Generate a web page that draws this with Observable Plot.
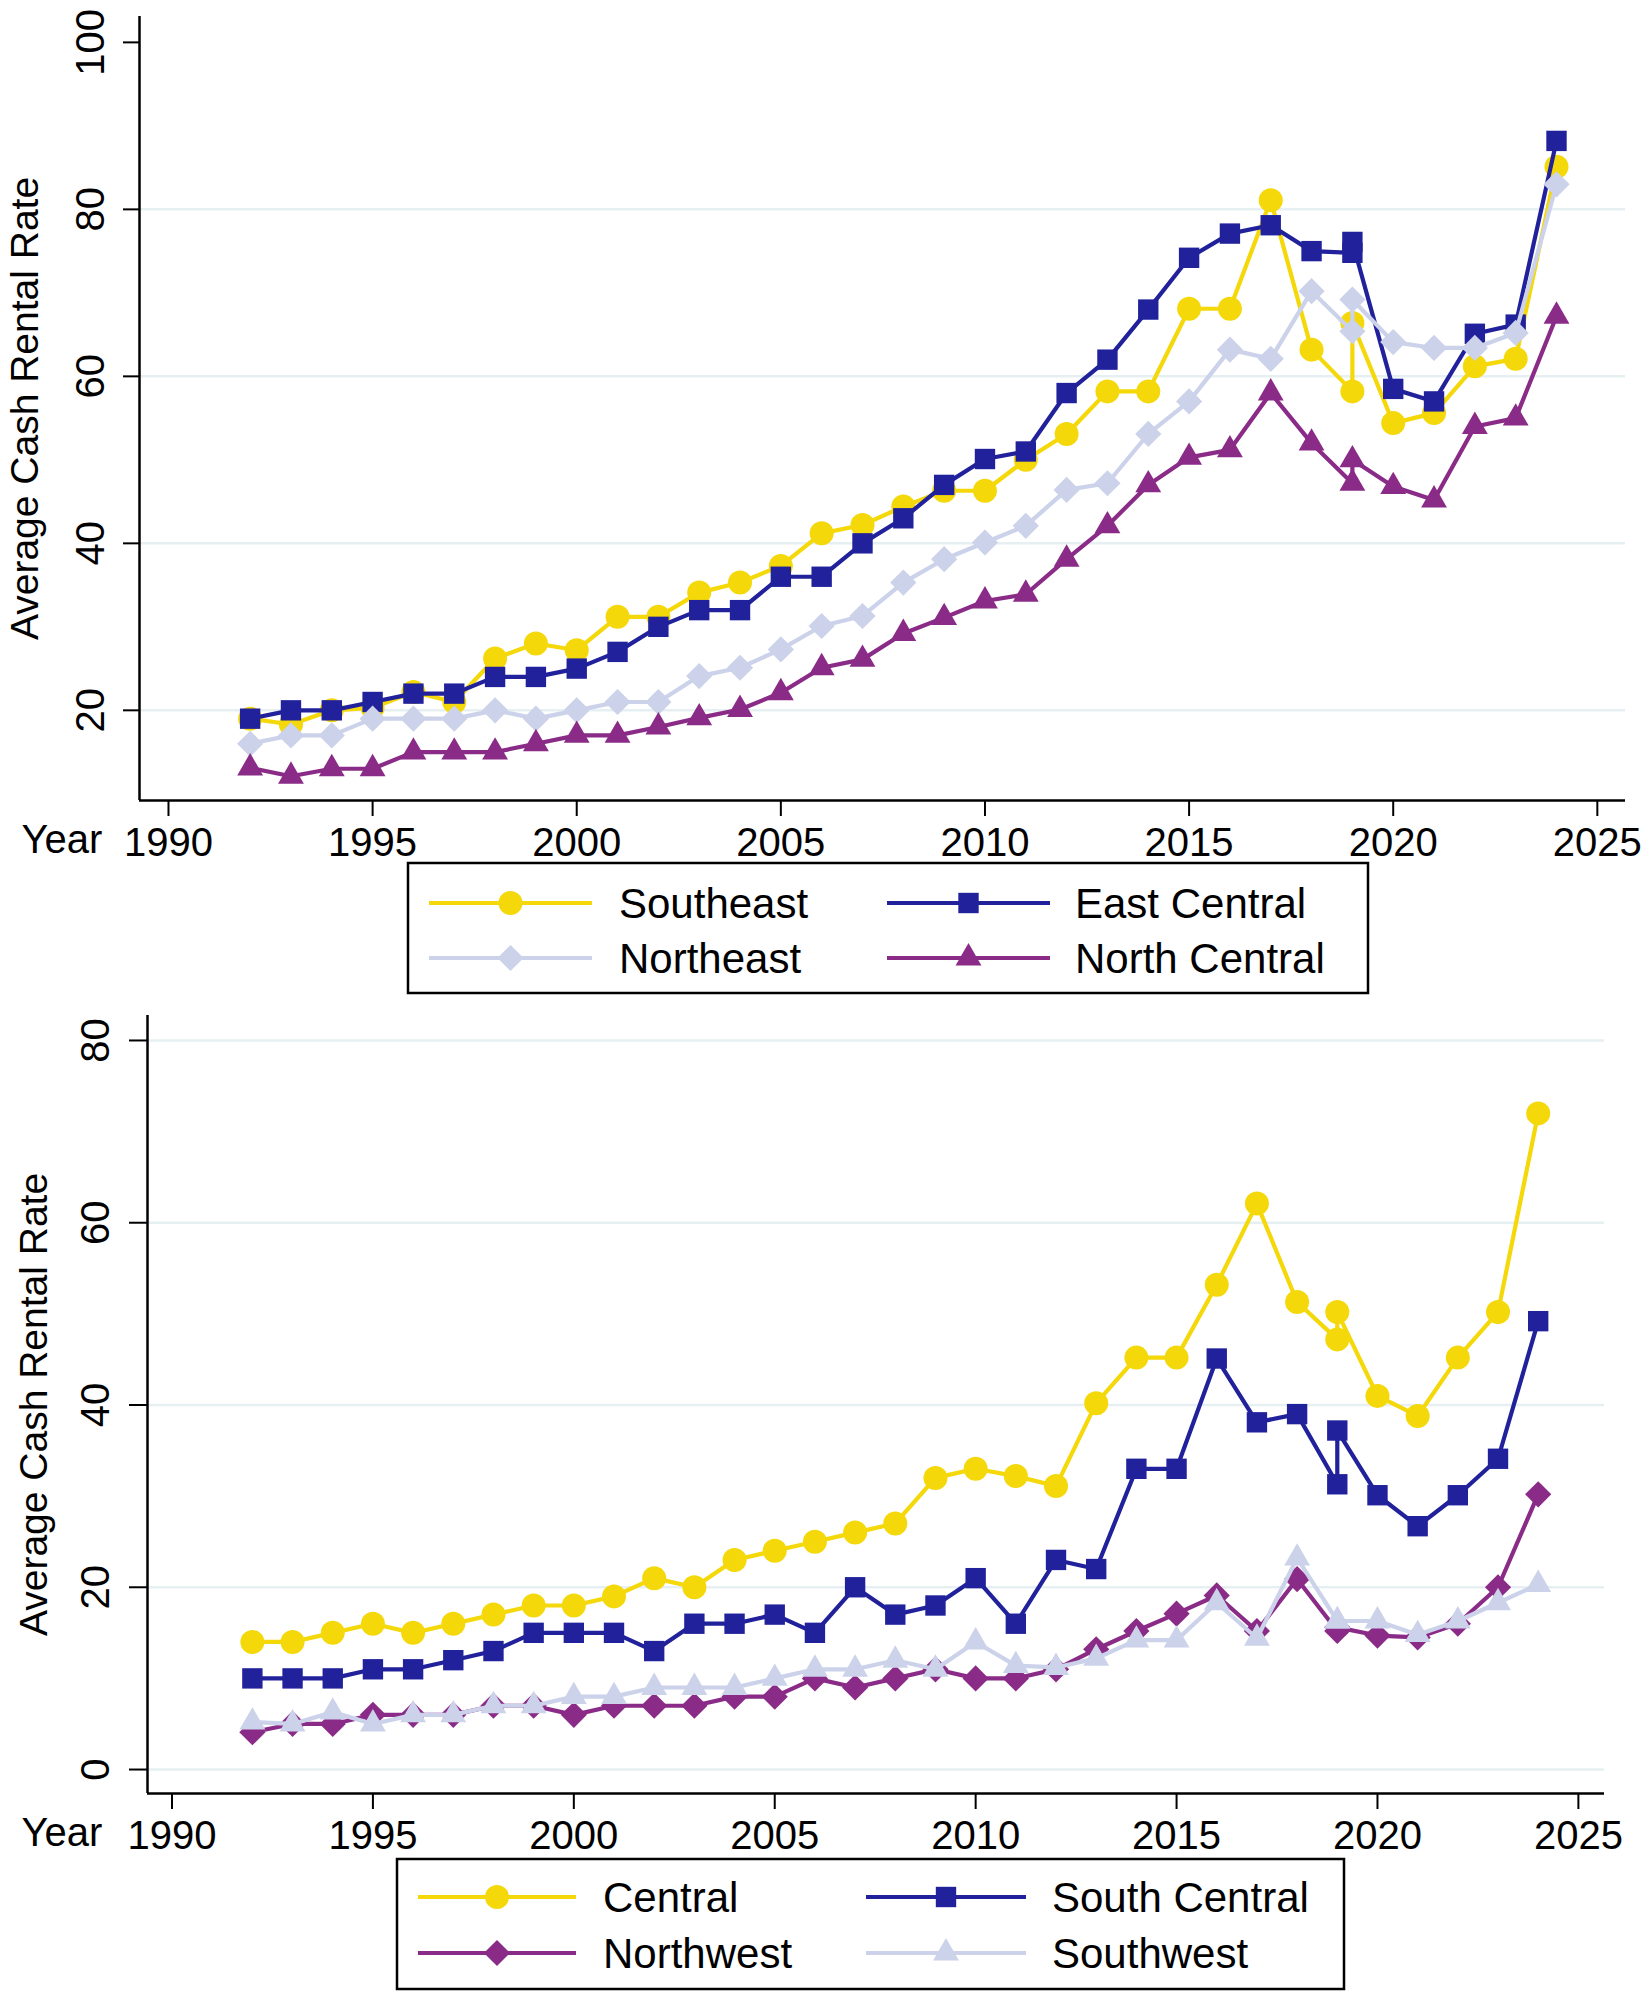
<!DOCTYPE html>
<html>
<head>
<meta charset="utf-8">
<script src="https://cdn.jsdelivr.net/npm/d3@7"></script>
<script src="https://cdn.jsdelivr.net/npm/@observablehq/plot@0.6"></script>
<style>
  body { margin: 0; background: #fff; }
  #page { position: relative; width: 1650px; height: 2000px; background: #fff; overflow: hidden;
          font-family: "Liberation Sans", Arial, Helvetica, sans-serif; }
  #top, #bottom, #legend { position: absolute; left: 0; }
  #top { top: 0; }
  #bottom { top: 1000px; }
  #legend { top: 0; }
</style>
</head>
<body>
<div id="page">
  <div id="top"></div>
  <div id="bottom"></div>
  <svg id="legend" width="1650" height="2000"></svg>
</div>
<script>
// ---------- data ----------
const years = [1992,1993,1994,1995,1996,1997,1998,1999,2000,2001,2002,2003,2004,2005,2006,2007,2008,2009,2010,2011,2012,2013,2014,2015,2016,2017,2018,2019,2019,2020,2021,2022,2023,2024];

// top panel
const southeast    = [19,18.3,20,20.3,22.2,21,26.2,28,27.2,31.2, 31.2,34.1,35.3,37.3,41.2,42.2,44.4,46.3,46.3,50, 53.1,58.2,58.2,68.1,68.1,81.1,63.2, 58.2,66.4, 54.4,55.6,61.2,62.1,85.1];
const eastCentral  = [19,20,20,21,22,22,24,24,25,27, 30,32,32,36,36,40,43,47,50.1,51, 58,62,68,74.2,77.1,78.1,75, 74.8,76.1, 58.5,57,65.1,66.2,88.2];
const northeast    = [16,17,17,19,19,19,20,19,20,21, 21,24.1,25.1,27.3,30.1,31.3,35.3,38.1,40.1,42.1, 46.4,47.2,53.1,57,63.2,62.1,70.2, 65.4,69.2, 64.1,63.4,63.4,65.2,83];
const northCentral = [13.1,12.1,13,13,15,15,15,16,17,17, 18,19.1,20.1,22.1,25.1,26.1,29.2,31.1,33.1,33.9, 38.1,42.1,47,50.3,51.2,58,52, 47.2,50, 46.8,45.2,54,55,67.2];

// bottom panel
const central      = [14,14,15,16,15,16,17,18,18,19, 21,20,23,24,25,26,27,32,33,32.2, 31.1,40.2,45.2,45.2,53.2,62.1,51.3, 47.2,50.2, 41,38.8,45.2,50.2,72];
const southCentral = [10,10,10,11,11,12,13,15,15,15, 13,16,16,17,15,20,17,18,21,16, 23,22,33,33,45.1,38.1,39, 31.3,37.2, 30.1,26.7,30.1,34.1,49.2];
const northwest    = [4.1,5,5,6,6,6,7,7,6,7, 7,7,8,8,10,9,10,11,10,10, 11,13.2,15.2,17.1,19.1,15.2,20.9, 15.2,15.6, 14.7,14.5,16,20,30.2];
const southwest    = [5.2,5,6.3,5,6,6,7,7,8,8, 9,9,9,10,11,11,12,11,14,11.4, 11.2,12.2,14.2,14.2,18.3,14.4,23.2, 16.3,16.3, 16.3,14.8,16.3,18.3,20.3];

const xTicks = [1990,1995,2000,2005,2010,2015,2020,2025];
const yTicksTop = [20,40,60,80,100];
const gridTop = [20,40,60,80];
const yTicksBottom = [0,20,40,60,80];
const gridBottom = [0,20,40,60,80];

const yTitle = "Average Cash Rental Rate";
const xTitle = "Year";

const topNames = ["Southeast","East Central","Northeast","North Central"];
const bottomNames = ["Central","South Central","Northwest","Southwest"];

// ---------- styles ----------
const YELLOW = "#f4d80a", NAVY = "#21229b", LAVENDER = "#cbd2ea", PURPLE = "#8a2b87", GRID = "#e6eff1";
const FONT = "\"Liberation Sans\", Arial, Helvetica, sans-serif";
const LINE_W = 4.2;
const SYM = {
  circle:   {plot: "circle",   r: 12.0},
  square:   {plot: "square",   r: 11.5},
  diamond:  {plot: "diamond2", r: 11.8},
  triangle: {plot: "triangle", r: 9.6}
};

function rows(name, values) { return years.map((year, i) => ({year, value: values[i], name})); }

const topSeries = [
  {name: topNames[0], values: southeast,    color: YELLOW,   sym: "circle"},
  {name: topNames[1], values: eastCentral,  color: NAVY,     sym: "square"},
  {name: topNames[2], values: northeast,    color: LAVENDER, sym: "diamond"},
  {name: topNames[3], values: northCentral, color: PURPLE,   sym: "triangle"}
];
const bottomSeries = [
  {name: bottomNames[0], values: central,      color: YELLOW,   sym: "circle"},
  {name: bottomNames[1], values: southCentral, color: NAVY,     sym: "square"},
  {name: bottomNames[2], values: northwest,    color: PURPLE,   sym: "diamond"},
  {name: bottomNames[3], values: southwest,    color: LAVENDER, sym: "triangle"}
];

function chart(cfg) {
  const marks = [];
  marks.push(Plot.ruleY(cfg.grid, {y: d => d, stroke: GRID, strokeWidth: 2.5}));
  for (const s of cfg.series) {
    const data = rows(s.name, s.values);
    marks.push(Plot.line(data, {x: "year", y: "value", stroke: s.color, strokeWidth: LINE_W}));
    marks.push(Plot.dot(data, {x: "year", y: "value", symbol: SYM[s.sym].plot, r: SYM[s.sym].r, fill: s.color, stroke: "none"}));
  }
  // axis lines
  marks.push(Plot.ruleX([cfg.xDomain[0]], {x: d => d, stroke: "black", strokeWidth: 2.5}));
  marks.push(Plot.ruleY([cfg.yDomain[0]], {y: d => d, stroke: "black", strokeWidth: 2.5}));
  // y ticks (marks only) and rotated labels
  marks.push(Plot.axisY({ticks: cfg.yTicks, tickSize: cfg.yTickSize, tickFormat: () => "", label: null, strokeWidth: 2}));
  marks.push(Plot.text(cfg.yTicks, {y: d => d, text: d => String(d), frameAnchor: "left", dx: cfg.tickLabelDx,
    rotate: -90, textAnchor: "middle", lineAnchor: "middle", fontSize: 40, fill: "black"}));
  marks.push(Plot.text([yTitle], {text: d => d, frameAnchor: "left", dx: cfg.titleDx, rotate: -90,
    textAnchor: "middle", lineAnchor: "middle", fontSize: 39, fill: "black"}));
  // x axis
  marks.push(Plot.axisX({ticks: xTicks, tickSize: 16, tickPadding: 11, tickFormat: d => String(d), label: null,
    fontSize: 40, strokeWidth: 2}));
  marks.push(Plot.text([xTitle], {text: d => d, frameAnchor: "bottom-left", dx: cfg.yearDx, dy: 40,
    textAnchor: "start", lineAnchor: "middle", fontSize: 40, fill: "black"}));

  return Plot.plot({
    width: 1650,
    height: cfg.height,
    marginLeft: cfg.marginLeft,
    marginRight: cfg.marginRight,
    marginTop: cfg.marginTop,
    marginBottom: cfg.marginBottom,
    x: {domain: cfg.xDomain, label: null},
    y: {domain: cfg.yDomain, label: null},
    style: {fontFamily: FONT, fontSize: "40px", color: "black", background: "transparent", overflow: "visible"},
    marks
  });
}

document.getElementById("top").appendChild(chart({
  series: topSeries, grid: gridTop, yTicks: yTicksTop,
  xDomain: [1989.29, 2025.69], yDomain: [9.2, 103.1],
  height: 870, marginLeft: 139, marginRight: 25, marginTop: 16, marginBottom: 70,
  yTickSize: 16, tickLabelDx: -48, titleDx: -114, yearDx: -118
}));

document.getElementById("bottom").appendChild(chart({
  series: bottomSeries, grid: gridBottom, yTicks: yTicksBottom,
  xDomain: [1989.39, 2025.65], yDomain: [-2.63, 82.74],
  height: 860, marginLeft: 147, marginRight: 46, marginTop: 15, marginBottom: 67,
  yTickSize: 18, tickLabelDx: -51, titleDx: -113, yearDx: -126
}));

// ---------- legends ----------
const D3SYM = {circle: d3.symbolCircle, square: d3.symbolSquare, diamond: d3.symbolDiamond2, triangle: d3.symbolTriangle};
const legends = [
  {series: topSeries, box: [408, 863, 1368, 993], rowsY: [903, 958], cols: [{l: 429, r: 592, t: 619}, {l: 887, r: 1050, t: 1075}]},
  {series: bottomSeries, box: [397, 1859, 1344, 1989], rowsY: [1897, 1953], cols: [{l: 418, r: 576, t: 603}, {l: 866, r: 1026, t: 1052}]}
];
const lsvg = d3.select("#legend");
for (const lg of legends) {
  const [x0, y0, x1, y1] = lg.box;
  lsvg.append("rect").attr("x", x0).attr("y", y0).attr("width", x1 - x0).attr("height", y1 - y0)
    .attr("fill", "none").attr("stroke", "black").attr("stroke-width", 2.5);
  lg.series.forEach((s, i) => {
    const col = lg.cols[i % 2], y = lg.rowsY[Math.floor(i / 2)];
    lsvg.append("line").attr("x1", col.l).attr("x2", col.r).attr("y1", y).attr("y2", y)
      .attr("stroke", s.color).attr("stroke-width", LINE_W);
    const r = SYM[s.sym].r;
    lsvg.append("path").attr("d", d3.symbol(D3SYM[s.sym], Math.PI * r * r)())
      .attr("transform", `translate(${(col.l + col.r) / 2},${y})`).attr("fill", s.color);
    lsvg.append("text").attr("x", col.t).attr("y", y).attr("dy", "0.35em")
      .attr("font-family", FONT).attr("font-size", 42).attr("fill", "black").text(s.name);
  });
}
</script>
</body>
</html>
